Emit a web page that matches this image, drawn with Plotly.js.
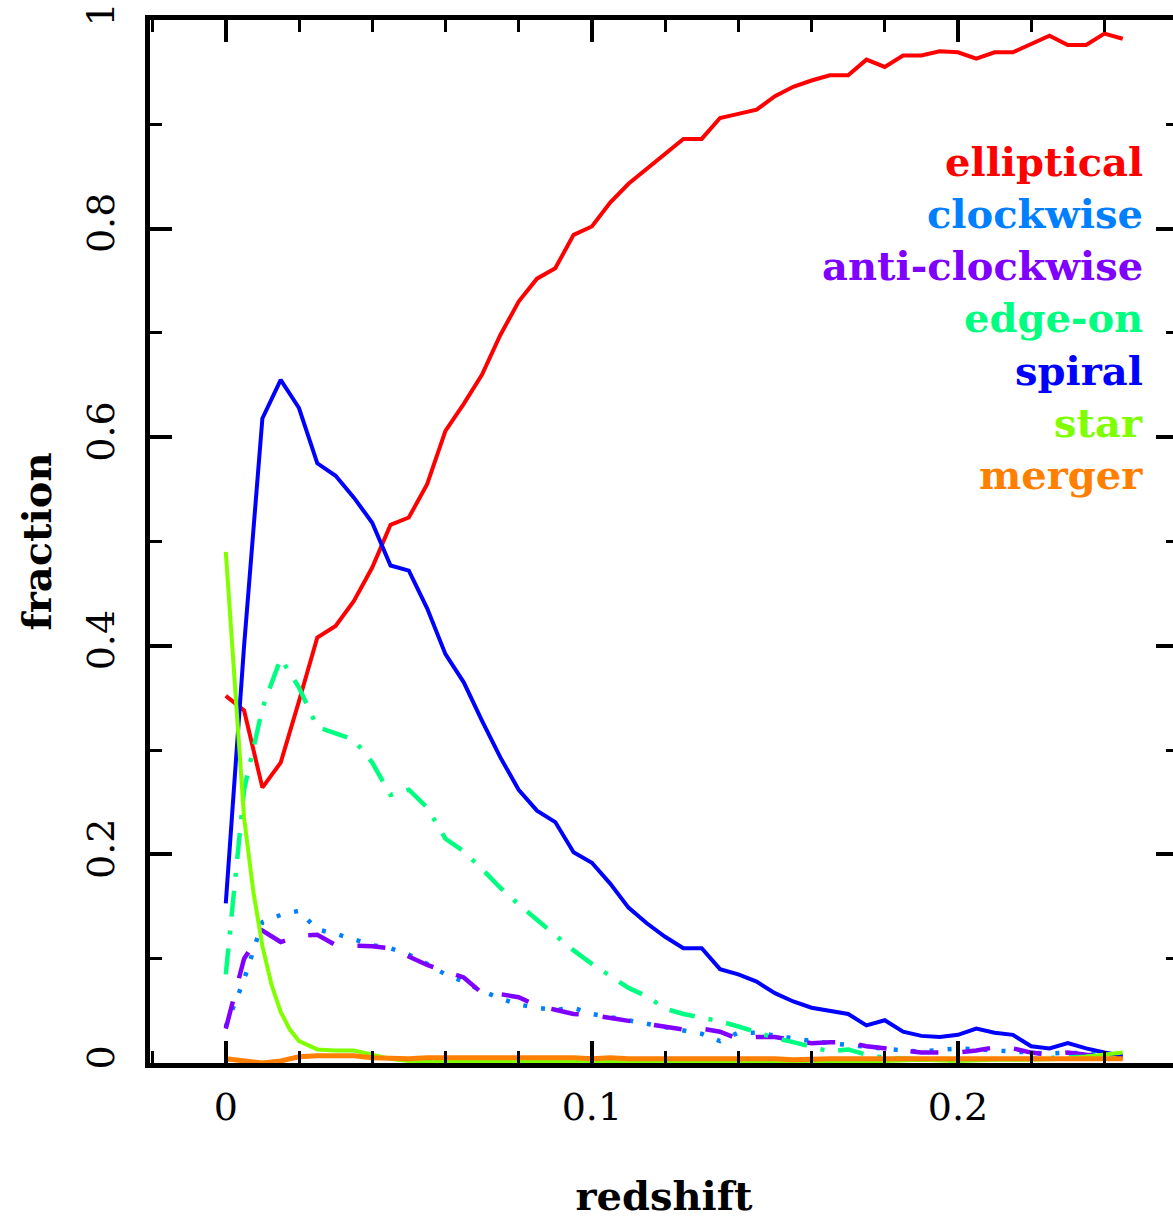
<!DOCTYPE html>
<html>
<head>
<meta charset="utf-8">
<script src="https://cdn.plot.ly/plotly-3.0.1.min.js"></script>
<style>
html,body{margin:0;padding:0;background:#fff;overflow:hidden;}
#chart{width:1180px;height:1219px;}
</style>
</head>
<body>
<div id="chart"></div>
<script>
// ---- data ----
const redshift = [0,0.005,0.01,0.015,0.02,0.025,0.03,0.035,0.04,0.045,0.05,0.055,0.06,0.065,0.07,0.075,0.08,0.085,0.09,0.095,0.1,0.105,0.11,0.115,0.12,0.125,0.13,0.135,0.14,0.145,0.15,0.155,0.16,0.165,0.17,0.175,0.18,0.185,0.19,0.195,0.2,0.205,0.21,0.215,0.22,0.225,0.23,0.235,0.24,0.245];

const elliptical = [0.352,0.338,0.264,0.288,0.347,0.408,0.419,0.443,0.475,0.516,0.523,0.555,0.606,0.632,0.660,0.698,0.730,0.752,0.762,0.794,0.802,0.825,0.843,0.857,0.871,0.886,0.886,0.906,0.910,0.914,0.927,0.936,0.942,0.947,0.947,0.962,0.955,0.966,0.966,0.970,0.969,0.963,0.969,0.969,0.977,0.985,0.976,0.976,0.987,0.982];

const clockwise = [0.035,0.080,0.135,0.142,0.146,0.128,0.124,0.118,0.113,0.110,0.104,0.095,0.085,0.078,0.069,0.062,0.056,0.053,0.051,0.053,0.047,0.044,0.041,0.037,0.035,0.032,0.028,0.021,0.029,0.029,0.026,0.023,0.021,0.019,0.017,0.015,0.013,0.012,0.011,0.012,0.014,0.013,0.012,0.010,0.009,0.009,0.010,0.009,0.008,0.007];

const antiClockwise = [0.033,0.100,0.127,0.116,0.122,0.123,0.113,0.113,0.112,0.110,0.102,0.094,0.088,0.082,0.067,0.066,0.063,0.055,0.051,0.047,0.046,0.043,0.041,0.038,0.035,0.032,0.033,0.030,0.023,0.025,0.025,0.022,0.019,0.020,0.020,0.016,0.014,0.011,0.010,0.010,0.010,0.012,0.015,0.014,0.010,0.008,0.010,0.008,0.006,0.005];

const edgeOn = [0.085,0.262,0.340,0.388,0.360,0.322,0.316,0.310,0.288,0.257,0.262,0.245,0.215,0.203,0.186,0.168,0.152,0.137,0.122,0.108,0.095,0.083,0.072,0.064,0.052,0.047,0.044,0.040,0.035,0.029,0.024,0.020,0.016,0.011,0.013,0.008,0.005,0.004,0.003,0.003,0.003,0.003,0.004,0.004,0.004,0.005,0.005,0.006,0.008,0.009];

const spiral = [0.153,0.400,0.618,0.655,0.628,0.575,0.563,0.542,0.518,0.477,0.472,0.436,0.392,0.365,0.328,0.293,0.262,0.242,0.231,0.202,0.192,0.172,0.149,0.134,0.121,0.110,0.110,0.090,0.085,0.078,0.067,0.059,0.053,0.050,0.047,0.036,0.041,0.030,0.026,0.025,0.027,0.033,0.029,0.027,0.016,0.014,0.019,0.014,0.010,0.007];

const starRedshift = [0,0.005,0.0075,0.01,0.0125,0.015,0.0175,0.02,0.025,0.03,0.035,0.04,0.045,0.05,0.06,0.07,0.08,0.09,0.1,0.11,0.12,0.13,0.14,0.15,0.16,0.17,0.18,0.19,0.2,0.21,0.22,0.23,0.235,0.24,0.245];
const star = [0.490,0.235,0.165,0.112,0.075,0.049,0.032,0.021,0.013,0.012,0.012,0.008,0.004,0.002,0.001,0.001,0.001,0.001,0.001,0.001,0.001,0.001,0.002,0.001,0.002,0.002,0.002,0.003,0.002,0.003,0.003,0.004,0.006,0.008,0.010];

const merger = [0.004,0.002,0.000,0.002,0.006,0.007,0.007,0.007,0.005,0.004,0.004,0.005,0.005,0.006,0.006,0.005,0.006,0.005,0.006,0.005,0.004,0.005,0.004,0.004,0.004,0.004,0.005,0.004,0.005,0.004,0.004,0.003,0.004,0.004,0.004,0.004,0.003,0.003,0.004,0.004,0.003,0.004,0.004,0.003,0.004,0.004,0.004,0.003,0.004,0.004];

const seriesNames = ['elliptical','clockwise','anti-clockwise','edge-on','spiral','star','merger'];
const seriesColors = ['#ff0000','#0080ff','#8000ff','#00ff80','#0000ff','#80ff00','#ff8000'];

// ---- traces ----
const serif = 'DejaVu Serif, Liberation Serif, serif';
const seriesData = [
  {x: redshift, y: elliptical, dash: 'solid', w: 4},
  {x: redshift, y: clockwise, dash: '4px,14px', w: 4.5},
  {x: redshift, y: antiClockwise, dash: '28px,24px', w: 4.5},
  {x: redshift, y: edgeOn, dash: '26px,14px,4px,14px', w: 4.5},
  {x: redshift, y: spiral, dash: 'solid', w: 4},
  {x: starRedshift, y: star, dash: 'solid', w: 4},
  {x: redshift, y: merger, dash: 'solid', w: 5}
];
const traces = seriesData.map((s, i) => ({
  type: 'scatter', mode: 'lines', name: seriesNames[i],
  x: s.x, y: s.y,
  line: {color: seriesColors[i], width: s.w, dash: s.dash},
  hoverinfo: 'skip'
}));

// ---- legend as coloured text ----
const annotations = seriesNames.map((n, i) => ({
  xref: 'x', yref: 'y', x: 0.2512, y: 0.864 - i * 0.0499,
  xanchor: 'right', yanchor: 'middle', showarrow: false,
  text: n,
  font: {family: serif, size: 40, weight: 'bold', color: seriesColors[i]}
}));

const axisCommon = {
  showline: true, linewidth: 5, linecolor: '#000', mirror: 'ticks',
  ticks: 'inside', ticklen: 22, tickwidth: 4, tickcolor: '#000',
  showgrid: false, zeroline: false, automargin: false,
  tickfont: {family: serif, size: 38, color: '#000'}
};

const layout = {
  width: 1180, height: 1219,
  margin: {l: 150, r: 2, t: 20, b: 156},
  paper_bgcolor: '#fff', plot_bgcolor: '#fff',
  showlegend: false,
  xaxis: Object.assign({}, axisCommon, {
    range: [-0.0207, 0.2601], tick0: 0, dtick: 0.1,
    minor: {tick0: 0, dtick: 0.02, ticks: 'inside', ticklen: 12, tickwidth: 3, tickcolor: '#000'},
    ticklabelstandoff: 6,
    title: {text: 'redshift', font: {family: serif, size: 40, weight: 'bold', color: '#000'}, standoff: 56}
  }),
  yaxis: Object.assign({}, axisCommon, {
    range: [0, 1], tick0: 0, dtick: 0.2, tickangle: -90,
    minor: {tick0: 0, dtick: 0.1, ticks: 'inside', ticklen: 12, tickwidth: 3, tickcolor: '#000'},
    ticklabelstandoff: 16,
    title: {text: 'fraction', font: {family: serif, size: 40, weight: 'bold', color: '#000'}, standoff: 16}
  }),
  annotations: annotations
};

Plotly.newPlot('chart', traces, layout, {staticPlot: true, displayModeBar: false});
</script>
</body>
</html>
